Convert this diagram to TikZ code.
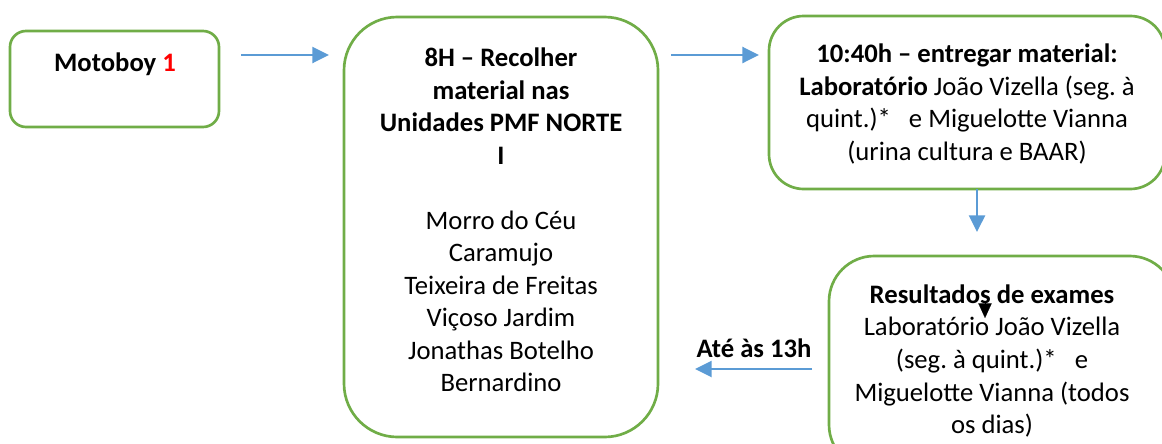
\documentclass[tikz,border=0pt]{standalone}
\usepackage{fontspec}
\setmainfont{Carlito}
\frenchspacing
\usetikzlibrary{arrows.meta,calc}
\definecolor{boxgreen}{HTML}{70AD47}
\definecolor{arrblue}{HTML}{5B9BD5}
\definecolor{numred}{HTML}{FF0000}
\tikzset{
  box/.style={draw=boxgreen, line width=2pt, fill=white, inner sep=0pt},
  txt/.style={align=center, inner sep=0pt, font=\fontsize{20}{24.4}\selectfont},
  flow/.style={draw=arrblue, line width=1.8pt, -{Triangle[length=12.5pt,width=12pt]}},
  tip/.style={-{Triangle[length=11pt,width=10pt]}, draw=black, line width=0.1pt}
}
\begin{document}
\begin{tikzpicture}[x=0.75pt,y=-0.75pt]
\useasboundingbox (0,0) rectangle (1162,443);
\clip (0,0) rectangle (1162,443);
% boxes
\node[box, rounded corners=12pt, minimum width=156.75pt, minimum height=72pt] (moto) at (114.5,79) {};
\node[box, rounded corners=40pt, minimum width=235.5pt, minimum height=315pt] (recolher) at (501,227) {};
\node[box, rounded corners=26pt, minimum width=297pt, minimum height=129.75pt] (entregar) at (967,102.5) {};
\node[box, rounded corners=34pt, minimum width=259.5pt, minimum height=160.5pt] (result) at (1002,363) {};
% texts
\node[txt] (tmoto) at (115,64) {\textbf{Motoboy \textcolor{numred}{1}}};
\node[txt] (trec) at (501,220) {\textbf{8H – Recolher}\\\textbf{material nas}\\\textbf{Unidades PMF NORTE}\\\textbf{I}\\[24.4pt]Morro do Céu\\Caramujo\\Teixeira de Freitas\\Viçoso Jardim\\Jonathas Botelho\\Bernardino};
\node[txt] (tent) at (967,104) {\textbf{10:40h – entregar material:}\\\textbf{Laboratório} João Vizella (seg. à\\quint.)*\ \ \ e Miguelotte Vianna\\(urina cultura e BAAR)};
\node[txt] (tres) at (992,361) {\textbf{Resultados de exames}\\Laboratório João Vizella\\(seg. à quint.)*\ \ \ e\\Miguelotte Vianna (todos\\os dias)};
\node[txt] (tate) at (754,348) {\textbf{Até às 13h}};
% connector end points
\coordinate (a1s) at (241,55);
\coordinate (a1e) at (329,55);
\coordinate (a2s) at (671,55);
\coordinate (a2e) at (759,55);
\coordinate (a3s) at (977,189);
\coordinate (a3e) at (977,232);
\coordinate (a4s) at (812,369);
\coordinate (a4e) at (695,369);
\coordinate (bts) at (985,304);
\coordinate (bte) at (985,318);
% connectors
\draw[flow] (a1s) -- (a1e);
\draw[flow] (a2s) -- (a2e);
\draw[flow] (a3s) -- (a3e);
\draw[flow] (a4s) -- (a4e);
\draw[tip] (bts) -- (bte);
\end{tikzpicture}
\end{document}
